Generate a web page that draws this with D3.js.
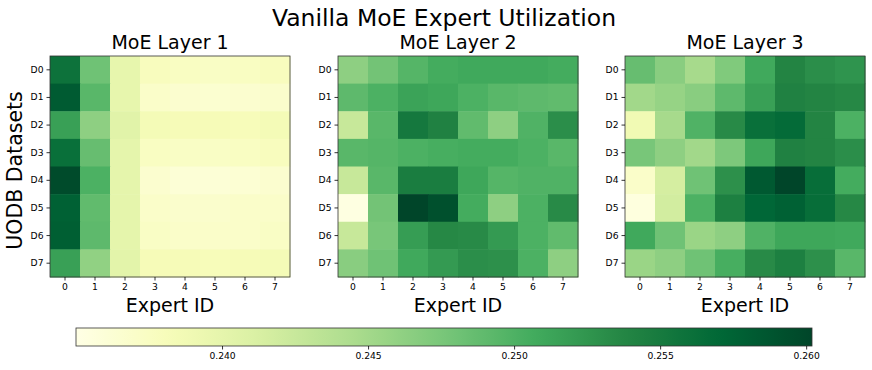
<!DOCTYPE html>
<html>
<head>
<meta charset="utf-8">
<script src="https://cdn.jsdelivr.net/npm/d3@7"></script>
<style>
  body { margin: 0; background: #fff; }
  svg { display: block; font-family: "DejaVu Sans", sans-serif; }
</style>
</head>
<body>
<div id="chart"></div>
<script>
// values
const experts = ['0', '1', '2', '3', '4', '5', '6', '7'];
const datasets = ['D0', 'D1', 'D2', 'D3', 'D4', 'D5', 'D6', 'D7'];
const layerTitles = ['MoE Layer 1', 'MoE Layer 2', 'MoE Layer 3'];
const colorTicks = [0.240, 0.245, 0.250, 0.255, 0.260];
const colorRange = [0.2350, 0.2602];

const layer1 = [
    [0.2559, 0.2481, 0.2398, 0.2378, 0.2375, 0.2373, 0.2375, 0.2378],
    [0.2582, 0.2494, 0.2398, 0.2370, 0.2366, 0.2365, 0.2366, 0.2368],
    [0.2516, 0.2463, 0.2405, 0.2385, 0.2383, 0.2383, 0.2381, 0.2385],
    [0.2562, 0.2486, 0.2400, 0.2375, 0.2373, 0.2373, 0.2375, 0.2378],
    [0.2597, 0.2501, 0.2400, 0.2366, 0.2361, 0.2361, 0.2363, 0.2366],
    [0.2577, 0.2489, 0.2400, 0.2370, 0.2368, 0.2368, 0.2370, 0.2370],
    [0.2579, 0.2491, 0.2400, 0.2373, 0.2370, 0.2370, 0.2370, 0.2373],
    [0.2516, 0.2461, 0.2403, 0.2383, 0.2383, 0.2381, 0.2383, 0.2385]
];

const layer2 = [
    [0.2463, 0.2479, 0.2496, 0.2506, 0.2509, 0.2509, 0.2509, 0.2506],
    [0.2491, 0.2501, 0.2514, 0.2511, 0.2501, 0.2494, 0.2491, 0.2489],
    [0.2426, 0.2494, 0.2552, 0.2542, 0.2489, 0.2463, 0.2499, 0.2531],
    [0.2494, 0.2496, 0.2501, 0.2504, 0.2506, 0.2506, 0.2501, 0.2494],
    [0.2426, 0.2494, 0.2547, 0.2547, 0.2511, 0.2496, 0.2499, 0.2499],
    [0.2353, 0.2479, 0.2602, 0.2592, 0.2506, 0.2463, 0.2501, 0.2534],
    [0.2426, 0.2476, 0.2519, 0.2536, 0.2534, 0.2521, 0.2501, 0.2489],
    [0.2466, 0.2481, 0.2509, 0.2521, 0.2531, 0.2529, 0.2501, 0.2463]
];

const layer3 = [
    [0.2486, 0.2466, 0.2448, 0.2471, 0.2509, 0.2539, 0.2531, 0.2526],
    [0.2451, 0.2458, 0.2466, 0.2491, 0.2516, 0.2542, 0.2539, 0.2536],
    [0.2388, 0.2448, 0.2499, 0.2534, 0.2562, 0.2567, 0.2539, 0.2501],
    [0.2476, 0.2463, 0.2451, 0.2473, 0.2511, 0.2542, 0.2539, 0.2531],
    [0.2370, 0.2416, 0.2481, 0.2529, 0.2584, 0.2602, 0.2564, 0.2506],
    [0.2355, 0.2418, 0.2501, 0.2544, 0.2571, 0.2577, 0.2564, 0.2536],
    [0.2509, 0.2481, 0.2456, 0.2463, 0.2499, 0.2511, 0.2511, 0.2509],
    [0.2456, 0.2463, 0.2481, 0.2504, 0.2534, 0.2544, 0.2529, 0.2494]
];

const layers = [layer1, layer2, layer3];

// matplotlib YlGn
const ylgn = ['#ffffe5', '#f7fcb9', '#d9f0a3', '#addd8e', '#78c679', '#41ab5d', '#238443', '#006837', '#004529'];

const width = 872,
    height = 370;

const panelLeft = [50, 338, 625],
    panelW = 240,
    panelTop = 56,
    panelH = 221,
    tickFont = '9.2px';

const svg = d3.select('#chart')
    .append('svg')
    .attr('width', width)
    .attr('height', height);

const color = d3.scaleLinear()
    .domain(d3.range(ylgn.length).map(function(i) {
        return colorRange[0] + (colorRange[1] - colorRange[0]) * i / (ylgn.length - 1);
    }))
    .range(ylgn)
    .clamp(true);

svg.append('text')
    .attr('x', 444)
    .attr('y', 26)
    .attr('text-anchor', 'middle')
    .style('font-size', '23.5px')
    .text('Vanilla MoE Expert Utilization');

layers.forEach(function(layer, li) {
    const g = svg.append('g')
        .attr('transform', 'translate(' + panelLeft[li] + ',' + panelTop + ')');

    const x = d3.scaleBand().domain(experts).range([0, panelW]);
    const y = d3.scaleBand().domain(datasets).range([0, panelH]);

    const cells = [];
    layer.forEach(function(row, r) {
        row.forEach(function(v, c) {
            cells.push({ d: datasets[r], e: experts[c], v: v });
        });
    });

    g.selectAll('rect.cell')
        .data(cells)
        .enter()
        .append('rect')
        .attr('class', 'cell')
        .attr('x', function(d) { return x(d.e); })
        .attr('y', function(d) { return y(d.d); })
        .attr('width', x.bandwidth() + 0.5)
        .attr('height', y.bandwidth() + 0.5)
        .attr('fill', function(d) { return color(d.v); });

    g.append('rect')
        .attr('width', panelW)
        .attr('height', panelH)
        .attr('fill', 'none')
        .attr('stroke', '#333')
        .attr('stroke-width', 0.8);

    const xAxis = g.append('g')
        .attr('transform', 'translate(0,' + panelH + ')')
        .call(d3.axisBottom(x).tickSize(3.5).tickPadding(3));

    const yAxis = g.append('g')
        .call(d3.axisLeft(y).tickSize(3.5).tickPadding(3));

    [xAxis, yAxis].forEach(function(a) {
        a.select('.domain').remove();
        a.selectAll('line').attr('stroke', '#000').attr('stroke-width', 0.8);
        a.selectAll('text')
            .style('font-family', '"DejaVu Sans", sans-serif')
            .style('font-size', tickFont)
            .attr('fill', '#000');
    });

    g.append('text')
        .attr('x', panelW / 2)
        .attr('y', -7)
        .attr('text-anchor', 'middle')
        .style('font-size', '19px')
        .text(layerTitles[li]);

    g.append('text')
        .attr('x', panelW / 2)
        .attr('y', panelH + 34.5)
        .attr('text-anchor', 'middle')
        .style('font-size', '19px')
        .text('Expert ID');
});

svg.append('text')
    .attr('transform', 'translate(22,' + (panelTop + panelH / 2 + 4) + ') rotate(-90)')
    .attr('text-anchor', 'middle')
    .style('font-size', '20.5px')
    .text('UODB Datasets');

// colorbar
const cbX = 76,
    cbW = 736,
    cbY = 328,
    cbH = 18;

const cbScale = d3.scaleLinear().domain(colorRange).range([0, cbW]);

const defs = svg.append('defs');
const grad = defs.append('linearGradient')
    .attr('id', 'cbgrad')
    .attr('x1', '0%').attr('x2', '100%')
    .attr('y1', '0%').attr('y2', '0%');

grad.selectAll('stop')
    .data(d3.range(0, 1.0001, 0.02))
    .enter()
    .append('stop')
    .attr('offset', function(t) { return (t * 100) + '%'; })
    .attr('stop-color', function(t) { return color(colorRange[0] + t * (colorRange[1] - colorRange[0])); });

const cb = svg.append('g').attr('transform', 'translate(' + cbX + ',' + cbY + ')');

cb.append('rect')
    .attr('width', cbW)
    .attr('height', cbH)
    .attr('fill', 'url(#cbgrad)')
    .attr('stroke', '#333')
    .attr('stroke-width', 0.8);

const cbAxis = cb.append('g')
    .attr('transform', 'translate(0,' + cbH + ')')
    .call(d3.axisBottom(cbScale).tickValues(colorTicks).tickFormat(d3.format('.3f')).tickSize(3.5).tickPadding(3));

cbAxis.select('.domain').remove();
cbAxis.selectAll('line').attr('stroke', '#000').attr('stroke-width', 0.8);
cbAxis.selectAll('text')
    .style('font-family', '"DejaVu Sans", sans-serif')
    .style('font-size', tickFont)
    .attr('fill', '#000');
</script>
</body>
</html>
